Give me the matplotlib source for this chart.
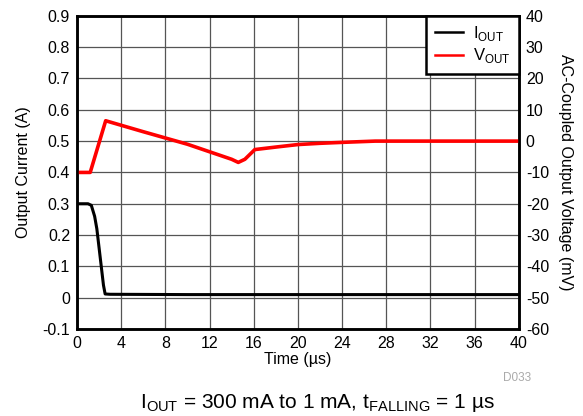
import numpy as np
import matplotlib
matplotlib.use("Agg")
import matplotlib.pyplot as plt

plt.rcParams['font.family'] = ['Liberation Sans', 'DejaVu Sans']
plt.rcParams['mathtext.fontset'] = 'custom'
plt.rcParams['mathtext.rm'] = 'Liberation Sans'
plt.rcParams['axes.unicode_minus'] = False

# output current (A) vs time (us)
t_iout = [0, 1.0, 1.3, 1.6, 1.8, 2.0, 2.2, 2.4, 2.55, 3.0, 10, 20, 30, 40]
iout = [0.30, 0.30, 0.295, 0.26, 0.22, 0.16, 0.10, 0.04, 0.012, 0.011, 0.010, 0.010, 0.010, 0.010]

# AC-coupled output voltage (mV) vs time (us)
t_vout = [0, 1.2, 2.6, 6, 10, 14.0, 14.6, 15.2, 16.1, 18, 20, 22, 24, 27, 32, 40]
vout = [-10, -10, 6.5, 3.0, -1.0, -5.8, -6.8, -5.8, -2.7, -1.9, -1.1, -0.7, -0.4, 0, 0, 0]

fig = plt.figure(figsize=(5.83, 4.16), dpi=100)
ax = fig.add_axes([0.132, 0.209, 0.758, 0.753])
ax2 = ax.twinx()

l1, = ax.plot(t_iout, iout, color='black', lw=2.2)
l2, = ax2.plot(t_vout, vout, color='red', lw=2.6)

ax.set_xlim(0, 40)
ax.set_ylim(-0.1, 0.9)
ax2.set_ylim(-60, 40)
ax.set_xticks(np.arange(0, 41, 4))
ax.set_yticks(np.arange(-0.1, 0.91, 0.1))
ax.set_yticklabels(['-0.1', '0', '0.1', '0.2', '0.3', '0.4', '0.5', '0.6', '0.7', '0.8', '0.9'])
ax2.set_yticks(np.arange(-60, 41, 10))
ax.grid(True, color='#555555', lw=0.9)
ax.set_axisbelow(True)

for a in (ax, ax2):
    for s in a.spines.values():
        s.set_linewidth(1.8)
    a.tick_params(length=0, labelsize=11.5, pad=5)

ax.set_xlabel('Time (µs)', fontsize=11.5, labelpad=1)
ax.set_ylabel('Output Current (A)', fontsize=11.5, labelpad=8)
ax2.set_ylabel('AC-Coupled Output Voltage (mV)', fontsize=11.5, rotation=270, labelpad=17)

leg = ax2.legend([l1, l2], [r'I$_\mathregular{OUT}$', r'V$_\mathregular{OUT}$'],
                 loc='upper right', fancybox=False, framealpha=1, edgecolor='black',
                 fontsize=12, borderaxespad=0, handlelength=1.7, handletextpad=0.6,
                 borderpad=0.5, labelspacing=0.2)
leg.get_frame().set_linewidth(1.8)
for h in leg.get_lines():
    h.set_linewidth(1.8)

fig.text(0.862, 0.085, 'D033', fontsize=8.5, color='#aaaaaa')
fig.text(0.545, 0.02, r'I$_\mathregular{OUT}$ = 300 mA to 1 mA, t$_\mathregular{FALLING}$ = 1 µs',
         fontsize=15, ha='center')

fig.savefig('out.png', dpi=100)
